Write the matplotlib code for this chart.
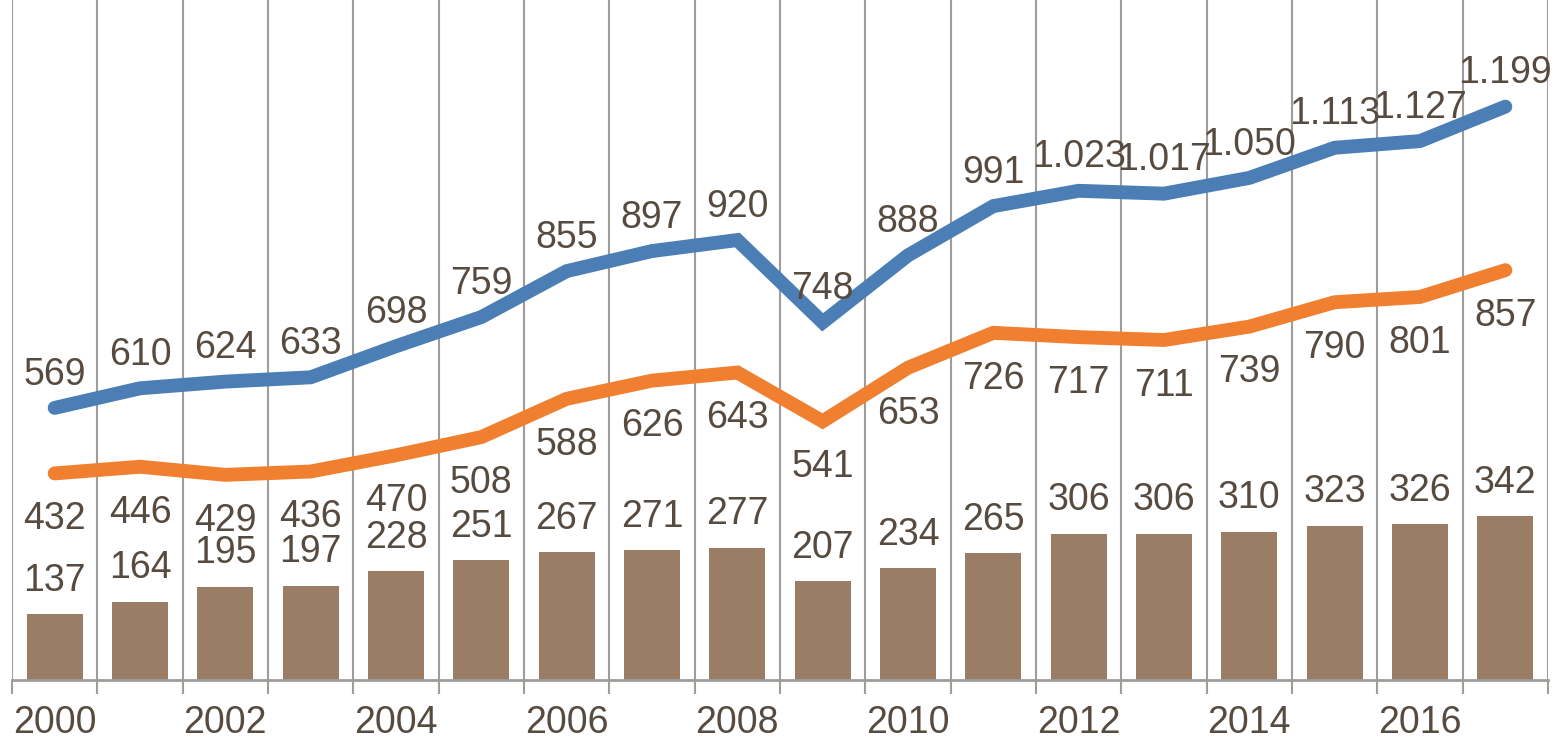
import numpy as np
import matplotlib.pyplot as plt

plt.rcParams['font.family'] = ['Liberation Sans', 'DejaVu Sans']

years = list(range(2000, 2018))
bars = [137, 164, 195, 197, 228, 251, 267, 271, 277, 207, 234, 265, 306, 306, 310, 323, 326, 342]
orange = [432, 446, 429, 436, 470, 508, 588, 626, 643, 541, 653, 726, 717, 711, 739, 790, 801, 857]
blue = [569, 610, 624, 633, 698, 759, 855, 897, 920, 748, 888, 991, 1023, 1017, 1050, 1113, 1127, 1199]

text_col = '#574b40'
grid_col = '#a09d99'


def fmt(v):
    return f"{v:,}".replace(",", ".")


fig = plt.figure(figsize=(15.61, 7.42), dpi=100)
ax = fig.add_axes([12 / 1561, 62 / 742, 1536 / 1561, 680 / 742])

x = np.arange(len(years))
ax.bar(x, bars, width=0.66, color='#9a7d64', zorder=2)
ax.plot(x, orange, color='#f08030', lw=10, solid_capstyle='round', solid_joinstyle='miter', zorder=3)
ax.plot(x, blue, color='#4a7eb4', lw=10, solid_capstyle='round', solid_joinstyle='miter', zorder=3)

fs = 27
for i in x:
    ax.annotate(fmt(bars[i]), (i, bars[i]), xytext=(0, 24), textcoords='offset points',
                ha='center', va='center', fontsize=fs, color=text_col, zorder=4)
    ax.annotate(fmt(orange[i]), (i, orange[i]), xytext=(0, -33), textcoords='offset points',
                ha='center', va='center', fontsize=fs, color=text_col, zorder=4)
    ax.annotate(fmt(blue[i]), (i, blue[i]), xytext=(0, 24), textcoords='offset points',
                ha='center', va='center', fontsize=fs, color=text_col, zorder=4)

ax.set_xlim(-0.5, len(years) - 0.5)
ax.set_ylim(0, 1422)

# boundaries as major ticks with gridlines
ax.set_xticks(np.arange(len(years) + 1) - 0.5)
ax.set_xticklabels([])
ax.tick_params(axis='x', which='major', length=10, width=1.5, color=grid_col)
ax.set_xticks(x[::2], minor=True)
ax.set_xticklabels([str(y) for y in years[::2]], minor=True)
ax.tick_params(axis='x', which='minor', length=0, pad=18, labelsize=fs, labelcolor=text_col)
ax.grid(axis='x', which='major', color=grid_col, lw=1.5, zorder=0)
ax.set_yticks([])

for s in ['top', 'left', 'right']:
    ax.spines[s].set_visible(False)
ax.spines['bottom'].set_color(grid_col)
ax.spines['bottom'].set_linewidth(2)

fig.savefig('out.png', dpi=100)
